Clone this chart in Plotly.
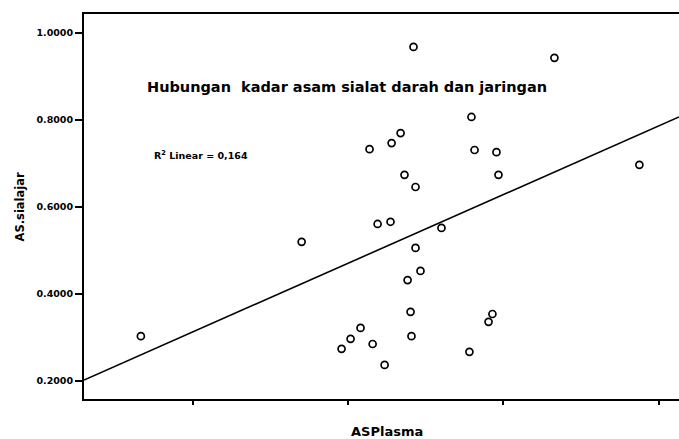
import plotly.graph_objects as go

# Data (x in tick units; x tick labels are not shown in the reference)
as_plasma = [0.666, 1.701, 2.421, 3.328, 2.794, 2.338, 2.280, 2.138, 2.814, 2.955,
             2.363, 2.968, 2.434, 3.875, 2.190, 2.273, 2.601, 2.434, 2.466, 2.383,
             2.402, 2.080, 2.016, 1.958, 2.158, 2.235, 2.408, 2.929, 2.904, 2.781]
as_sialajar = [0.303, 0.520, 0.968, 0.943, 0.807, 0.770, 0.747, 0.733, 0.731, 0.726,
               0.674, 0.674, 0.646, 0.697, 0.561, 0.566, 0.552, 0.506, 0.453, 0.432,
               0.359, 0.322, 0.297, 0.274, 0.285, 0.237, 0.303, 0.354, 0.336, 0.267]

fit_intercept = 0.1549
fit_slope = 0.1579
r2_text = "R<sup>2</sup> Linear = 0,164"

x_ticks = [1, 2, 3, 4]
y_ticks = [0.2, 0.4, 0.6, 0.8, 1.0]
y_ticktext = ["0.2000", "0.4000", "0.6000", "0.8000", "1.0000"]

x_range = [0.30, 4.13]
y_range = [0.1586, 1.0437]

title_text = "Hubungan  kadar asam sialat darah dan jaringan"
x_title = "ASPlasma"
y_title = "AS.sialajar"

FONT = "DejaVu Sans"

fig = go.Figure()
fig.add_trace(go.Scatter(
    x=x_range,
    y=[fit_intercept + fit_slope * v for v in x_range],
    mode="lines", line=dict(color="black", width=1.6),
    hoverinfo="skip", showlegend=False))
fig.add_trace(go.Scatter(
    x=as_plasma, y=as_sialajar, mode="markers",
    marker=dict(symbol="circle-open", size=7, color="black",
                line=dict(color="black", width=1.7)),
    showlegend=False))

fig.update_layout(
    width=679, height=439,
    margin=dict(l=84, r=0, t=14, b=40),
    paper_bgcolor="white", plot_bgcolor="white",
    font=dict(family=FONT, color="black"),
    xaxis=dict(range=x_range, tickvals=x_ticks, showticklabels=False,
               showgrid=False, zeroline=False, showline=True, linecolor="black",
               linewidth=2, mirror=True, ticks="outside", ticklen=4, tickwidth=1.5,
               tickcolor="black"),
    yaxis=dict(range=y_range, tickvals=y_ticks, ticktext=y_ticktext,
               showgrid=False, zeroline=False, showline=True, linecolor="black",
               linewidth=2, ticks="outside", ticklen=7, tickwidth=1.5,
               tickcolor="black",
               tickfont=dict(family=FONT, size=9.5, color="black", weight="bold")),
    annotations=[
        dict(text="<b>" + title_text + "</b>", xref="paper", yref="paper",
             x=0.442, y=0.810, showarrow=False, xanchor="center", yanchor="middle",
             font=dict(family=FONT, size=14.5, color="black")),
        dict(text="<b>" + r2_text + "</b>", xref="paper", yref="paper",
             x=0.197, y=0.634, showarrow=False, xanchor="center", yanchor="middle",
             font=dict(family=FONT, size=9.5, color="black")),
        dict(text="<b>" + x_title + "</b>", xref="paper", yref="paper",
             x=0.509, y=-0.0857, showarrow=False, xanchor="center", yanchor="middle",
             font=dict(family=FONT, size=13, color="black")),
        dict(text="<b>" + y_title + "</b>", xref="paper", yref="paper",
             x=-0.1076, y=0.50, showarrow=False, xanchor="center", yanchor="middle",
             textangle=-90, font=dict(family=FONT, size=11.5, color="black")),
    ],
)

fig.write_html("out.html")
